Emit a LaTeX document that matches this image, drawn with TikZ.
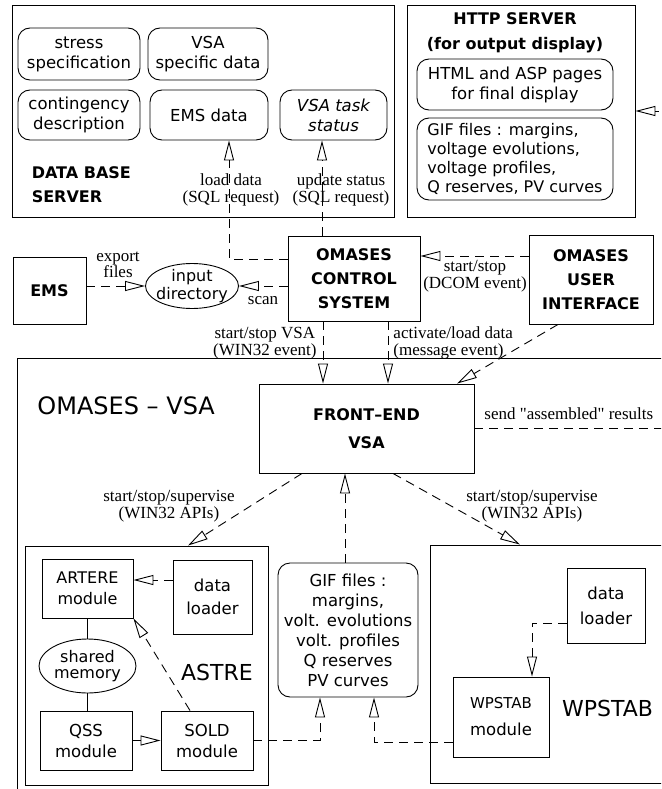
\documentclass[tikz,border=0pt]{standalone}
\usepackage{fontspec}
\setmainfont{Liberation Serif}[Ligatures=TeXOff]
\setsansfont{DejaVu Sans}
\usetikzlibrary{arrows.meta,calc,shapes.geometric}

\tikzset{
  box/.style={draw, rectangle, inner sep=0pt, align=center},
  rbox/.style={draw, rounded corners=12pt, inner sep=0pt, align=center},
  blob/.style={draw, ellipse, inner sep=-4pt, align=center},
  head/.style={font=\sffamily\bfseries\fontsize{16}{24}\selectfont, align=center},
  big/.style={font=\sffamily\fontsize{21}{24}\selectfont, inner sep=0pt},
  lbl/.style={font=\rmfamily\fontsize{17}{16.5}\selectfont, align=center, inner sep=0pt},
  flow/.style={dash pattern=on 9pt off 6pt, -{Triangle[open,length=20pt,width=10pt]}},
}

\begin{document}
\begin{tikzpicture}[x=1pt,y=-1pt,line width=0.9pt,
    every node/.style={font=\sffamily\fontsize{16.5}{20}\selectfont}]
   \useasboundingbox (0,0) rectangle (661,789);
   \clip (0,0) rectangle (661,789);
   % data base server
   \node[box, minimum width=382pt, minimum height=212pt] (dbs) at (203,111) {};
   \node[head, align=left, anchor=west] (dbst) at (28,185) {DATA BASE\\SERVER};
   \node[rbox, minimum width=122pt, minimum height=52pt] (stress) at (79,54) {stress\\specification};
   \node[rbox, minimum width=120pt, minimum height=52pt] (vsad) at (208,54) {VSA\\specific data};
   \node[rbox, minimum width=122pt, minimum height=50pt] (cont) at (79,115) {contingency\\description};
   \node[rbox, minimum width=118pt, minimum height=50pt] (emsd) at (209,115) {EMS data};
   \node[rbox, minimum width=107pt, minimum height=50pt,
         font=\sffamily\itshape\fontsize{16.5}{20}\selectfont] (task) at (333.5,115) {VSA task\\status};
   % http server
   \node[box, minimum width=228pt, minimum height=212pt] (http) at (521,111) {};
   \node[head, font=\sffamily\bfseries\fontsize{16}{25}\selectfont] (httpt) at (515,33) {HTTP SERVER\\(for output display)};
   \node[rbox, minimum width=196pt, minimum height=51pt] (html) at (515,84.5) {HTML and ASP pages\\for final display};
   \node[rbox, minimum width=196pt, minimum height=82pt, align=left,
         font=\sffamily\fontsize{16}{19}\selectfont] (gifh) at (515,159)
         {GIF files : margins,\\voltage evolutions,\\voltage profiles,\\Q reserves, PV curves};
   % middle row
   \node[box, head, minimum width=73pt, minimum height=67pt] (ems) at (49.5,290.5) {EMS};
   \node[blob, minimum width=93pt, minimum height=45pt,
         font=\sffamily\fontsize{16}{18}\selectfont] (indir) at (192,286) {input\\directory};
   \node[box, head, minimum width=132pt, minimum height=85pt] (ctrl) at (354,278.5) {OMASES\\CONTROL\\SYSTEM};
   \node[box, head, minimum width=124pt, minimum height=89pt] (ui) at (591,279.5) {OMASES\\USER\\INTERFACE};
   % omases - vsa
   \node[box, minimum width=703pt, minimum height=472pt] (omvsa) at (368.5,594) {};
   \node[big, font=\sffamily\fontsize{24}{26}\selectfont, anchor=west] (omvsat) at (37,406) {OMASES -- VSA};
   \node[box, head, minimum width=215pt, minimum height=89pt,
         font=\sffamily\bfseries\fontsize{16}{28}\selectfont] (fe) at (366.5,428.5) {FRONT--END\\VSA};
   % astre
   \node[box, minimum width=243pt, minimum height=239pt] (astre) at (146.5,665.5) {};
   \node[box, minimum width=91pt, minimum height=59pt,
         font=\sffamily\fontsize{16}{21}\selectfont] (artere) at (87.5,588.5) {ARTERE\\module};
   \node[box, minimum width=79pt, minimum height=74pt,
         font=\sffamily\fontsize{16.5}{23}\selectfont] (ldr1) at (212.5,597) {data\\loader};
   \node[blob, minimum width=97pt, minimum height=54pt,
         font=\sffamily\fontsize{16}{16}\selectfont] (shm) at (87.5,666) {shared\\memory};
   \node[box, minimum width=92pt, minimum height=59pt,
         font=\sffamily\fontsize{16.5}{21}\selectfont] (qss) at (86,740.5) {QSS\\module};
   \node[box, minimum width=92pt, minimum height=59pt,
         font=\sffamily\fontsize{16.5}{21}\selectfont] (sold) at (207,740.5) {SOLD\\module};
   \node[big, font=\sffamily\fontsize{22}{24}\selectfont] (astret) at (217,672) {ASTRE};
   % gif files
   \node[rbox, minimum width=140pt, minimum height=134pt] (gifm) at (348,630)
         {GIF files :\\margins,\\volt. evolutions\\volt. profiles\\Q reserves\\PV curves};
   % wpstab
   \node[box, minimum width=290pt, minimum height=238pt] (wps) at (575,664) {};
   \node[box, minimum width=78pt, minimum height=75pt,
         font=\sffamily\fontsize{16.5}{25}\selectfont] (ldr2) at (606,605.5) {data\\loader};
   \node[box, minimum width=96pt, minimum height=80pt,
         font=\sffamily\fontsize{16.5}{27}\selectfont] (wmod) at (501,717) {{\fontsize{15}{18}\selectfont WPSTAB}\\module};
   \node[big, font=\sffamily\fontsize{22}{24}\selectfont] (wpst) at (607.5,708) {WPSTAB};

   % links to the servers
   \draw[flow] ($(ctrl.west)+(0,-19.5)$) -| ($(emsd.south)+(20,0)$);
   \draw[flow] ($(ctrl.north)+(-32,0)$) -- ($(task.south)+(-11.5,0)$);
   \node[lbl] (ldlbl) at (231,190) {load data\\(SQL request)};
   \node[lbl] (uplbl) at (341,190) {update status\\(SQL request)};
   \draw[flow] (ems.east |- indir.west) -- (indir.west);
   \node[lbl] (exlbl) at (118,265) {export\\files};
   \draw[flow] (ctrl.west |- indir.east) -- (indir.east);
   \node[lbl] (sclbl) at (263,301) {scan};
   \draw[flow] ($(ui.west)+(0,-23.5)$) coordinate (dc) -- (ctrl.east |- dc);
   \node[lbl] (dclbl) at (475,276) {start/stop\\(DCOM event)};
   \draw[flow] ($(fe.east)+(226,0)$) coordinate (sr) (fe.east) -- (sr) |- (http.east);
   \node[lbl, anchor=west] (srlbl) at (484,414) {send "assembled" results};

   % control of the front-end
   \path[flow]
   ($(ctrl.south)+(-31,0)$) edge ($(fe.north)+(-43.5,0)$)
   ($(ctrl.south)+(34,0)$) edge ($(fe.north)+(21.5,0)$)
   ($(ui.south)+(-33,0)$) edge ($(fe.north)+(90.5,0)$);
   \node[lbl, anchor=east] (welbl) at (317,343) {start/stop VSA\\(WIN32 event)};
   \node[lbl, anchor=west, align=left] (melbl) at (393,343) {activate/load data\\(message event)};

   % front-end and modules
   \path[flow]
   ($(fe.south)+(-64.5,0)$) edge ($(astre.north)+(41.5,0)$)
   ($(fe.south)+(26.5,0)$) edge ($(wps.north)+(-55,0)$)
   ($(gifm.north)+(-3,0)$) edge ($(fe.south)+(-21.5,0)$);
   \node[lbl] (aplbl1) at (169,506) {start/stop/supervise\\(WIN32 APIs)};
   \node[lbl] (aplbl2) at (532,506) {start/stop/supervise\\(WIN32 APIs)};

   % inside astre
   \draw[flow] ($(ldr1.west)+(0,-17)$) -- ($(artere.east)+(0,-8.5)$);
   \draw (artere.south) -- (shm.north);
   \draw (shm.south) -- (shm.south |- qss.north);
   \draw[flow] (qss) -- (sold);
   \draw[flow] ($(sold.north)+(-17,0)$) -- (artere.south east);
   \draw[flow] (sold.east) -| ($(gifm.south)+(-28,0)$);

   % inside wpstab
   \draw[flow] ($(ldr2.west)+(0,17.5)$) -| ($(wmod.north)+(31,0)$);
   \draw[flow] ($(wmod.west)+(0,25)$) -| ($(gifm.south)+(26,0)$);
\end{tikzpicture}
\end{document}
